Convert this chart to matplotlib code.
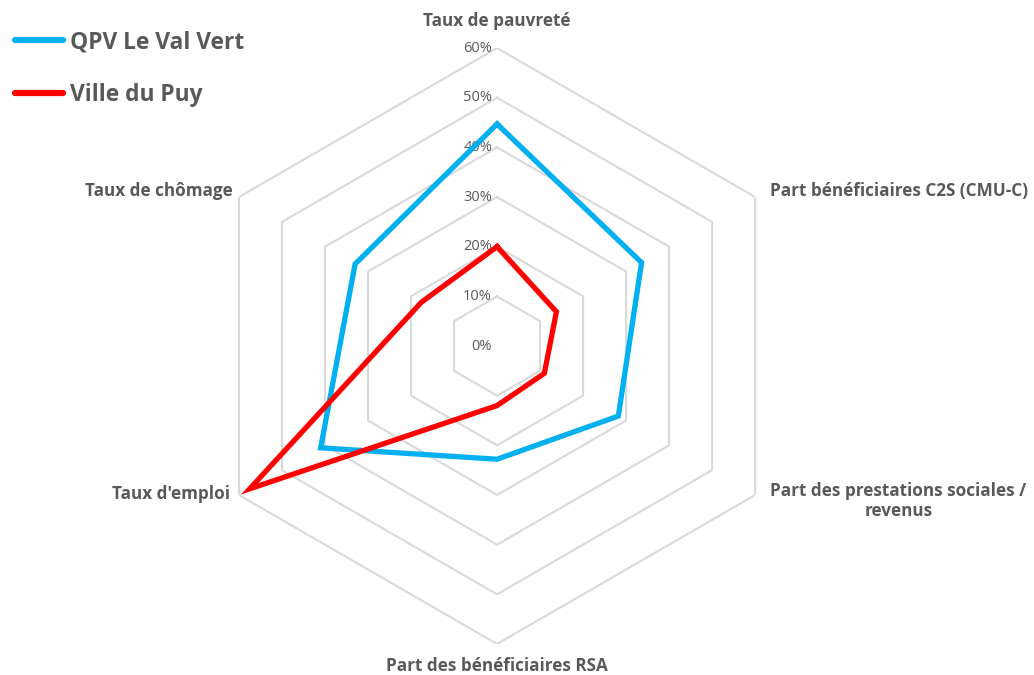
import numpy as np
import matplotlib.pyplot as plt

# DATA -------------------
categories = [
    "Taux de pauvreté",
    "Part bénéficiaires C2S (CMU-C)",
    "Part des prestations sociales /\nrevenus",
    "Part des bénéficiaires RSA",
    "Taux d'emploi",
    "Taux de chômage",
]
qpv_val_vert = [0.447, 0.336, 0.282, 0.228, 0.41, 0.33]
ville_du_puy = [0.20, 0.138, 0.11, 0.12, 0.575, 0.176]
levels = [0.0, 0.1, 0.2, 0.3, 0.4, 0.5, 0.6]
level_labels = ["0%", "10%", "20%", "30%", "40%", "50%", "60%"]

# PLOTTING -------------
plt.rcParams['font.family'] = ['Open Sans', 'DejaVu Sans']
text_grey = "#595959"

fig = plt.figure(figsize=(10.34, 6.75), dpi=100)
ax = fig.add_axes([0.1925, 0.0459, 0.5764, 0.883], projection='polar')
ax.set_theta_offset(np.pi / 2)
ax.set_theta_direction(-1)
ax.set_ylim(0, 0.6)
ax.grid(False)
ax.spines['polar'].set_visible(False)
ax.set_xticks([])
ax.set_yticks([])

n = len(categories)
angles = np.linspace(0, 2 * np.pi, n, endpoint=False)
closed = np.append(angles, angles[0])

# hexagonal grid
for lv in levels[1:]:
    ax.plot(closed, [lv] * (n + 1), color="#D9D9D9", lw=1.5, zorder=1)

for lv, lab in zip(levels, level_labels):
    ax.annotate(lab, xy=(0, lv), xytext=(-5, 0), textcoords='offset pixels',
                ha='right', va='center', fontsize=10.5, color=text_grey)

# series
ax.plot(closed, qpv_val_vert + qpv_val_vert[:1], color="#00B0F0", lw=3.8,
        solid_joinstyle='miter', label="QPV Le Val Vert", zorder=3)
ax.plot(closed, ville_du_puy + ville_du_puy[:1], color="#FF0000", lw=3.8,
        solid_joinstyle='miter', label="Ville du Puy", zorder=4)

# category labels
offsets = [(0, 27, 'center'), (15, 6, 'left'), (15, -6, 'left'),
           (0, -22, 'center'), (-9, 1, 'right'), (-6, 6, 'right')]
for ang, cat, (dx, dy, ha) in zip(angles, categories, offsets):
    ax.annotate(cat, xy=(ang, 0.6), xytext=(dx, dy), textcoords='offset pixels',
                ha=ha, va='center', multialignment='center',
                fontsize=12.3, fontweight='bold', color=text_grey,
                annotation_clip=False)

leg = fig.legend(loc='upper left', bbox_to_anchor=(15 / 1034, 0.955), frameon=False,
                 borderaxespad=0, borderpad=0,
                 handlelength=2.1, handletextpad=0.3, labelspacing=1.25,
                 prop={'size': 16.4, 'weight': 'bold'})
for t in leg.get_texts():
    t.set_color(text_grey)
for h in leg.get_lines():
    h.set_solid_capstyle('round')
    h.set_linewidth(4.5)

fig.savefig("out.png", dpi=100)
